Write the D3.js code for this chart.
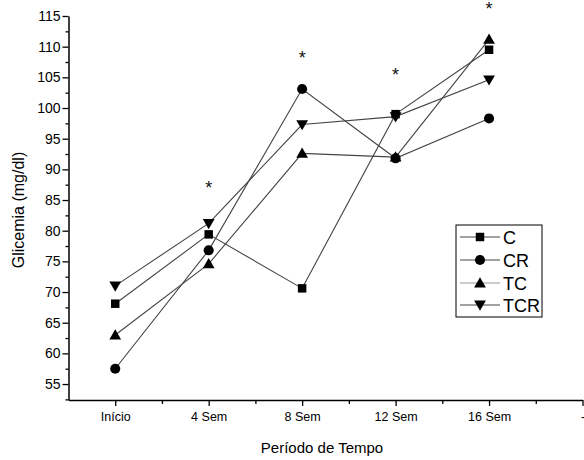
<!DOCTYPE html>
<html>
<head>
<meta charset="utf-8">
<script src="https://cdn.jsdelivr.net/npm/d3@7"></script>
<style>
  html, body { margin: 0; padding: 0; background: #fff; }
  svg { display: block; font-family: "Liberation Sans", Arial, sans-serif; }
</style>
</head>
<body>
<svg id="chart" width="584" height="460"></svg>
<script>
const categories = ["Início", "4 Sem", "8 Sem", "12 Sem", "16 Sem", "-"];
const seriesNames = ["C", "CR", "TC", "TCR"];
const valuesC   = [68.1, 79.4, 70.6, 99.0, 109.5];
const valuesCR  = [57.5, 76.8, 103.1, 91.8, 98.3];
const valuesTC  = [63.0, 74.6, 92.6, 92.0, 111.2];
const valuesTCR = [71.0, 81.2, 97.3, 98.6, 104.6];
const starIndex = [1, 2, 3, 4];
const starValues = [87.6, 108.8, 106.1, 116.8];
const yTickValues = [55, 60, 65, 70, 75, 80, 85, 90, 95, 100, 105, 110, 115];

const series = [
  { name: "C", values: valuesC, symbol: d3.symbolSquare, size: 72, rot: 0 },
  { name: "CR", values: valuesCR, symbol: d3.symbolCircle, size: 80, rot: 0 },
  { name: "TC", values: valuesTC, symbol: d3.symbolTriangle, size: 60, rot: 0 },
  { name: "TCR", values: valuesTCR, symbol: d3.symbolTriangle, size: 60, rot: 180 }
];

const svg = d3.select("#chart");
const x = d3.scaleLinear().domain([-0.5, 5]).range([68.5, 582.5]);
const y = d3.scaleLinear().domain([52.4, 115]).range([400, 16]);

// Y axis
const yMinor = d3.range(52.5, 115.01, 2.5).filter(v => v % 5 !== 0);
svg.append("g").attr("transform", `translate(${x(-0.5)},0)`)
  .call(d3.axisLeft(y).tickValues(yMinor).tickSize(3).tickFormat(""))
  .call(g => g.select(".domain").remove())
  .call(g => g.selectAll("line").attr("stroke", "#000").attr("stroke-width", 1.3));
const yAx = svg.append("g").attr("transform", `translate(${x(-0.5)},0)`)
  .call(d3.axisLeft(y).tickValues(yTickValues).tickSize(6).tickSizeOuter(0).tickPadding(2));
yAx.select(".domain").attr("stroke", "#000").attr("stroke-width", 1.5);
yAx.selectAll("line").attr("stroke", "#000").attr("stroke-width", 1.3);
yAx.selectAll("text").attr("font-size", 14).attr("fill", "#000").attr("font-family", "Liberation Sans, Arial, sans-serif");

// X axis
const xMinor = d3.range(0.5, 5, 1);
svg.append("g").attr("transform", `translate(0,${y(52.4)})`)
  .call(d3.axisBottom(x).tickValues(xMinor).tickSize(4).tickFormat(""))
  .call(g => g.select(".domain").remove())
  .call(g => g.selectAll("line").attr("stroke", "#000").attr("stroke-width", 1.3));
const xAx = svg.append("g").attr("transform", `translate(0,${y(52.4)})`)
  .call(d3.axisBottom(x).tickValues(d3.range(0, 6)).tickFormat(i => categories[i]).tickSize(6).tickSizeOuter(0).tickPadding(6));
xAx.select(".domain").attr("stroke", "#000").attr("stroke-width", 1.5);
xAx.selectAll("line").attr("stroke", "#000").attr("stroke-width", 1.3);
xAx.selectAll("text").attr("font-size", 12.5).attr("fill", "#000").attr("font-family", "Liberation Sans, Arial, sans-serif");

// Axis titles
svg.append("text").attr("x", 322).attr("y", 453).attr("text-anchor", "middle")
  .attr("font-size", 15).text("Período de Tempo");
svg.append("text").attr("transform", "translate(24,210) rotate(-90)").attr("text-anchor", "middle")
  .attr("font-size", 16).text("Glicemia (mg/dl)");

// Lines
const line = d3.line().x((d, i) => x(i)).y(d => y(d));
series.forEach(s => {
  svg.append("path").datum(s.values).attr("d", line)
    .attr("fill", "none").attr("stroke", "#444").attr("stroke-width", 1.1);
});
// Markers
series.forEach(s => {
  svg.append("g").selectAll("path").data(s.values).join("path")
    .attr("d", d3.symbol().type(s.symbol).size(s.size))
    .attr("transform", (d, i) => `translate(${x(i)},${y(d) + (s.rot ? -1 : (s.name === "TC" ? 1 : 0))}) rotate(${s.rot})`)
    .attr("fill", "#000");
});

// Significance stars
svg.append("g").selectAll("text").data(starValues).join("text")
  .attr("x", (d, i) => x(starIndex[i]))
  .attr("y", d => y(d) + 10)
  .attr("text-anchor", "middle").attr("font-size", 18).attr("fill", "#111")
  .text("*");

// Legend
const lg = svg.append("g");
lg.append("rect").attr("x", 456).attr("y", 225).attr("width", 86).attr("height", 92)
  .attr("fill", "#fff").attr("stroke", "#000").attr("stroke-width", 1);
const rowY = [237, 260, 283, 305];
series.forEach((s, i) => {
  lg.append("line").attr("x1", 460).attr("x2", 500).attr("y1", rowY[i]).attr("y2", rowY[i])
    .attr("stroke", s.name === "TC" ? "#999" : "#444").attr("stroke-width", 1.1);
  lg.append("path").attr("d", d3.symbol().type(s.symbol).size(s.size))
    .attr("transform", `translate(480,${rowY[i] + (s.rot ? -1 : (s.name === "TC" ? 1 : 0))}) rotate(${s.rot})`)
    .attr("fill", "#000");
  lg.append("text").attr("x", 503).attr("y", rowY[i] + 6.5).attr("font-size", 18).text(s.name);
});
</script>
</body>
</html>
